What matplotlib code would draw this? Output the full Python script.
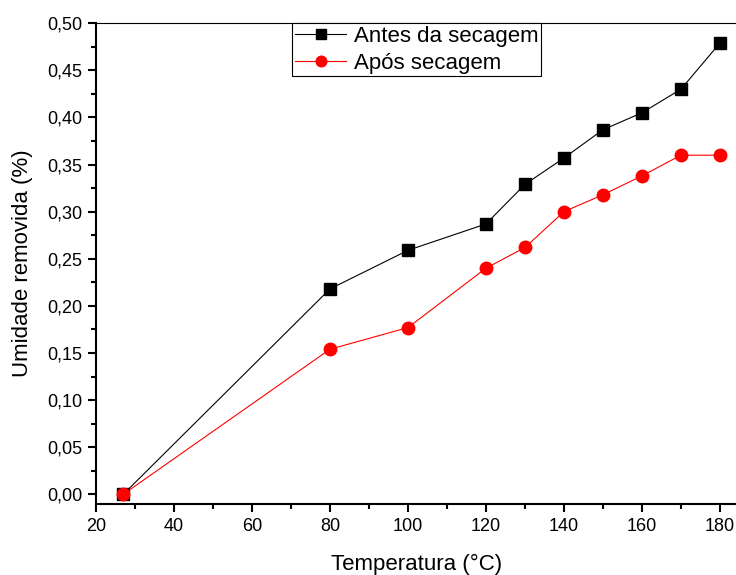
import matplotlib
matplotlib.use("Agg")
import matplotlib.pyplot as plt
from matplotlib.ticker import MultipleLocator, FuncFormatter

temperatura = [27, 80, 100, 120, 130, 140, 150, 160, 170, 180]
antes = [0.0, 0.218, 0.259, 0.287, 0.329, 0.357, 0.387, 0.405, 0.430, 0.479]
apos = [0.0, 0.154, 0.177, 0.240, 0.262, 0.300, 0.318, 0.338, 0.360, 0.360]

plt.rcParams['font.family'] = ['Liberation Sans', 'DejaVu Sans']

fig = plt.figure(figsize=(7.36, 5.75), dpi=100)
ax = fig.add_axes([96/736, 1-504/575, 1-96/736 + 0.002, (504-23.3)/575])

ax.plot(temperatura, antes, color='black', lw=0.8, marker='s', ms=8,
        mec='black', mfc='black', label='Antes da secagem')
ax.plot(temperatura, apos, color='red', lw=0.8, marker='o', ms=9,
        mec='red', mfc='red', label='Após secagem')

ax.set_xlim(20, 184.5)
ax.set_ylim(-0.0103, 0.5)
ax.xaxis.set_major_locator(MultipleLocator(20))
ax.xaxis.set_minor_locator(MultipleLocator(10))
ax.yaxis.set_major_locator(MultipleLocator(0.05))
ax.yaxis.set_minor_locator(MultipleLocator(0.025))
ax.yaxis.set_major_formatter(FuncFormatter(lambda v, p: f"{v:.2f}".replace('.', ',')))

ax.spines['right'].set_visible(False)
ax.spines['top'].set_linewidth(0.8)
ax.spines['left'].set_linewidth(1.5)
ax.spines['bottom'].set_linewidth(1.5)
ax.tick_params(which='major', direction='out', length=6, width=1.5, labelsize=13,
               top=False, right=False, pad=4)
ax.tick_params(which='minor', direction='out', length=3.5, width=1.5, top=False, right=False)

ax.set_xlabel('Temperatura (°C)', fontsize=16, labelpad=14)
ax.set_ylabel('Umidade removida (%)', fontsize=16, labelpad=10)

leg = ax.legend(loc='upper left', bbox_to_anchor=((292-96)/640, 1.0), fontsize=16,
                frameon=True, fancybox=False, edgecolor='black', framealpha=1,
                borderpad=0.12, handlelength=2.3, handletextpad=0.35, labelspacing=0.25,
                borderaxespad=0, markerscale=0.85)
leg.get_frame().set_linewidth(0.8)

fig.savefig('out.png', dpi=100)
